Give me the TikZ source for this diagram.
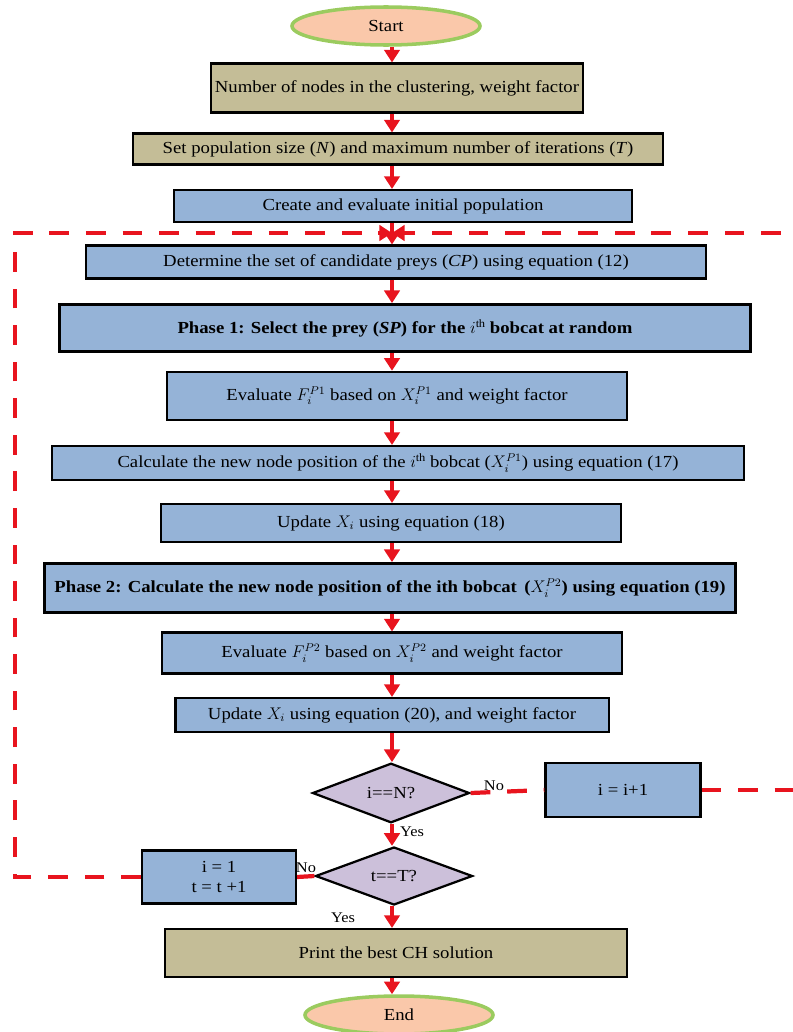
\documentclass[tikz,border=0pt]{standalone}
\usepackage{fontspec}
\setmainfont[FakeStretch=1.11]{Liberation Serif}
\usepackage{amsmath}
\usepackage{tikz}
\usetikzlibrary{positioning}
\usetikzlibrary{arrows.meta}
\usetikzlibrary{shapes.geometric}
\usetikzlibrary{calc}

\definecolor{boxblue}{HTML}{95B3D7}
\definecolor{boxtan}{HTML}{C4BD97}
\definecolor{decisionlilac}{HTML}{CCC0DA}
\definecolor{termpeach}{HTML}{FAC8AA}
\definecolor{termgreen}{HTML}{9BCB5F}
\definecolor{flowred}{HTML}{E8141E}

\begin{document}
\begin{tikzpicture}[x=0.025cm,y=-0.025cm,
    every node/.style={font=\fontsize{12}{14}\selectfont},
    box/.style={draw=black, line width=1.5pt, fill=boxblue, inner sep=2pt},
    tanbox/.style={box, fill=boxtan},
    phasebox/.style={box, line width=2pt, font=\fontsize{12}{14}\selectfont\bfseries},
    decision/.style={diamond, draw=black, line width=1.6pt, fill=decisionlilac, inner sep=0pt},
    terminal/.style={ellipse, draw=termgreen, line width=2.5pt, fill=termpeach, inner sep=0pt},
    flow/.style={draw=flowred, line width=2.2pt, -{Triangle[length=9pt,width=11pt]}},
    loopline/.style={draw=flowred, line width=3pt, dash pattern=on 14pt off 12pt,
                     -{Triangle[length=9pt,width=11pt]}},
    answer/.style={font=\fontsize{10.5}{12}\selectfont, inner sep=1pt}]

  % page frame
  \useasboundingbox (0,0) rectangle (793,1032);
  \clip (0,0) rectangle (793,1032);

  % main column and loop corners
  \coordinate (spine) at (392,0);
  \coordinate (loop) at (392,233);
  \coordinate (leftedge) at (15,0);
  \coordinate (rightedge) at (810,0);

  % start and setup
  \node[terminal, minimum width=4.7cm, minimum height=0.95cm] (start) at (386,26) {Start};
  \node[tanbox, minimum width=9.3cm, minimum height=1.225cm] (nodes) at (397,88)
    {Number of nodes in the clustering, weight factor};
  \node[tanbox, minimum width=13.25cm, minimum height=0.775cm] (setpop) at (398,149)
    {Set population size (\textit{N}) and maximum number of iterations (\textit{T})};
  \node[box, minimum width=11.45cm, minimum height=0.8cm] (init) at (403,206)
    {Create and evaluate initial population};

  % phase 1
  \node[box, minimum width=15.475cm, minimum height=0.825cm] (cand) at (396,262)
    {Determine the set of candidate preys (\textit{CP}) using equation (12)};
  \node[phasebox, minimum width=17.275cm, minimum height=1.175cm] (phaseone) at (405,328)
    {Phase 1: Select the prey (\textit{SP}) for the $i^{\mathrm{th}}$ bobcat at random};
  \node[box, line width=1.8pt, minimum width=11.5cm, minimum height=1.2cm] (evalone) at (397,396)
    {Evaluate $F_i^{P1}$ based on $X_i^{P1}$ and weight factor};
  \node[box, minimum width=17.275cm, minimum height=0.85cm] (posone) at (398,463)
    {Calculate the new node position of the $i^{\mathrm{th}}$ bobcat ($X_i^{P1}$) using equation (17)};
  \node[box, minimum width=11.5cm, minimum height=0.95cm] (updone) at (391,523)
    {Update $X_i$ using equation (18)};

  % phase 2
  \node[phasebox, minimum width=17.275cm, minimum height=1.225cm] (phasetwo) at (390,588)
    {Phase 2: Calculate the new node position of the ith bobcat \,($X_i^{P2}$) using equation (19)};
  \node[box, minimum width=11.5cm, minimum height=1.025cm] (evaltwo) at (392,653)
    {Evaluate $F_i^{P2}$ based on $X_i^{P2}$ and weight factor};
  \node[box, minimum width=10.825cm, minimum height=0.85cm] (updtwo) at (392,715)
    {Update $X_i$ using equation (20), and weight factor};

  % checks
  \node[decision, minimum width=3.925cm, minimum height=1.425cm] (checki) at (391,793) {i==N?};
  \node[box, minimum width=3.875cm, minimum height=1.35cm] (inci) at (623,790) {i = i+1};
  \node[decision, minimum width=3.925cm, minimum height=1.45cm] (checkt) at (394,876) {t==T?};
  \node[box, minimum width=3.85cm, minimum height=1.325cm, align=center] (inct) at (219,877)
    {i = 1\\t = t +1};

  % end
  \node[tanbox, minimum width=11.525cm, minimum height=1.2cm] (best) at (396,953)
    {Print the best CH solution};
  \node[terminal, minimum width=4.7cm, minimum height=0.95cm] (stop) at (399,1015) {End};

  % main flow
  \foreach \a/\b in {start/nodes, nodes/setpop, setpop/init, init/cand, cand/phaseone,
                     phaseone/evalone, evalone/posone, posone/updone, updone/phasetwo,
                     phasetwo/evaltwo, evaltwo/updtwo, updtwo/checki, checki/checkt,
                     checkt/best, best/stop}
    \draw[flow] (\a.south -| spine) -- (\b.north -| spine);

  % loop back over the bobcats
  \draw[loopline, -] (checki.east) -- (inci.west);
  \draw[loopline] (inci.east) -- (inci.east -| rightedge) |- (loop);

  % loop back over the iterations
  \draw[loopline, -] (checkt.west) -- (inct.east);
  \draw[loopline] (inct.west) -- (inct.west -| leftedge) |- (loop);

  % answers
  \node[answer] (noi) at (494,786) {No};
  \node[answer] (yesi) at (412,832) {Yes};
  \node[answer] (not) at (306,868) {No};
  \node[answer] (yest) at (343,918) {Yes};

\end{tikzpicture}
\end{document}
